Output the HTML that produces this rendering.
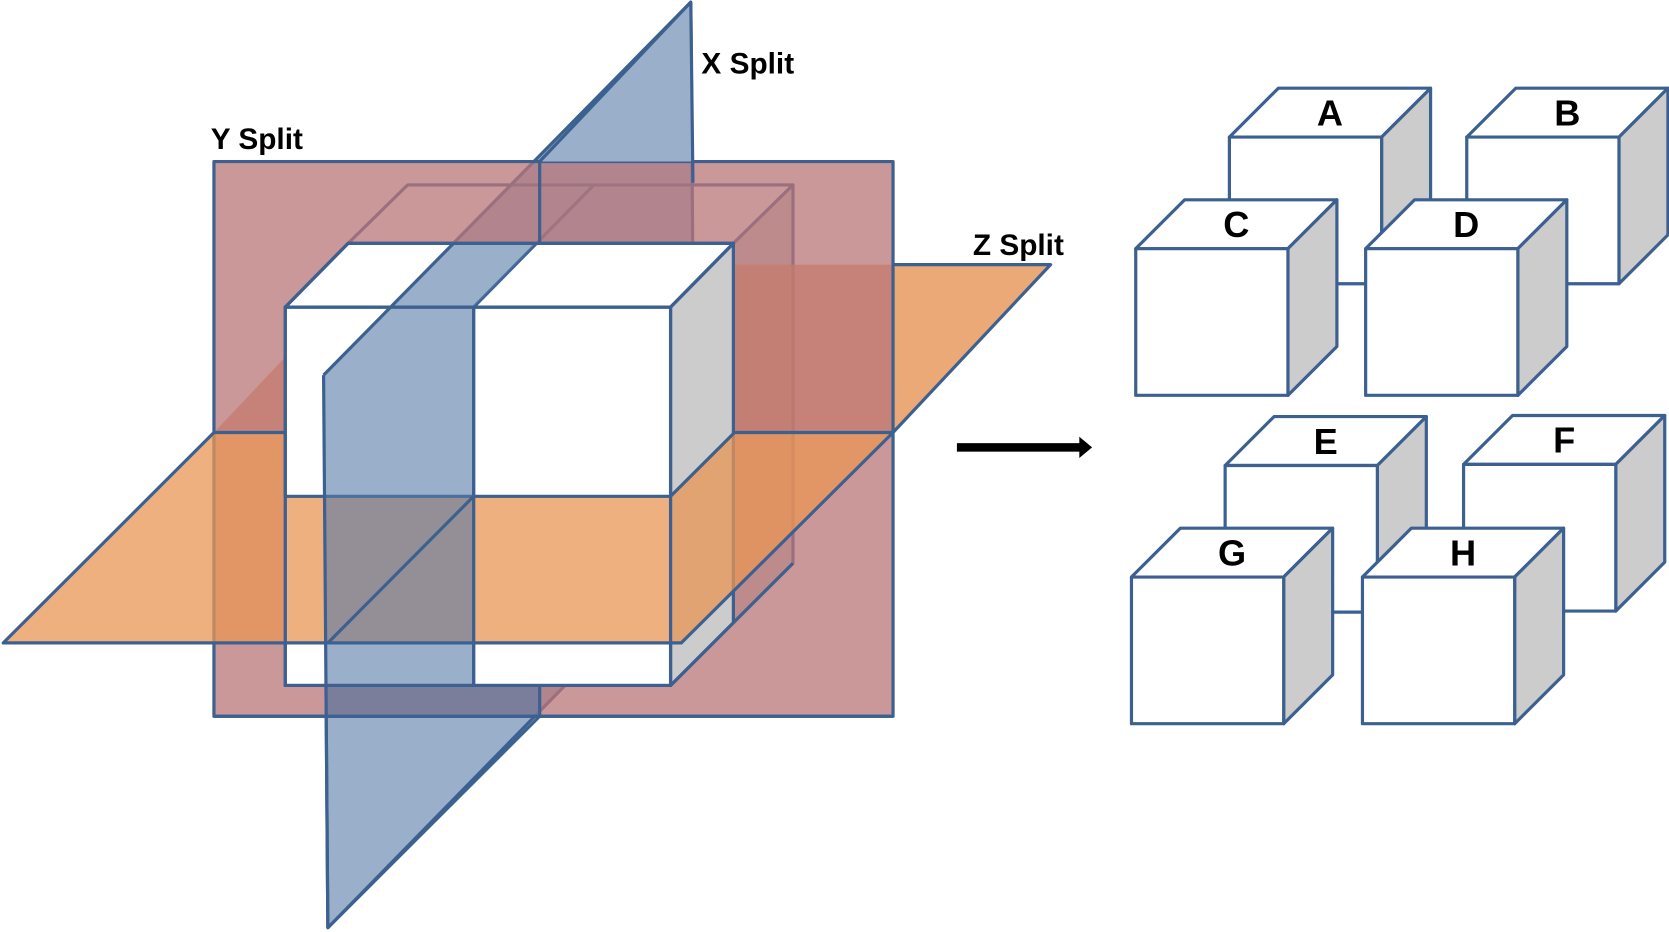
<!DOCTYPE html>
<html><head><meta charset="utf-8"><style>
html,body{margin:0;padding:0;background:#fff;}
svg{display:block;}
text{font-family:"Liberation Sans",sans-serif;font-weight:bold;fill:#000;}
</style></head><body>
<svg width="1669" height="932" viewBox="0 0 1568 877" preserveAspectRatio="none">
<g stroke="#3c6090" stroke-width="3" stroke-linejoin="round">
 <g>
  <polygon points="327,229 383,174 745,174 689,229" fill="#fff"/>
  <polygon points="689,229 745,174 745,530 689,586" fill="#ccc"/>
  <line x1="504" y1="229" x2="558" y2="174"/>
 </g>
 <polygon points="201,407 350,249 987,249 839,407" fill="rgb(228,140,74)" fill-opacity="0.75" stroke="none"/>
 <polygon points="304,353 649,2 653,520 308,873" fill="rgb(87,122,165)" fill-opacity="0.6"/>
 <rect x="201" y="152" width="638" height="522" fill="rgb(185,118,120)" fill-opacity="0.75"/>
 <polygon points="507,152 649,2 651,152" fill="#9aafc9" stroke="none"/>
 <line x1="649" y1="2" x2="651" y2="172" />
 <line x1="507" y1="152" x2="649" y2="2"/>
 <line x1="507" y1="152" x2="507" y2="229"/>
 <g>
  <rect x="268" y="467" width="362" height="178" fill="#fff"/>
  <polygon points="630,467 689,408 689,586 630,645" fill="#ccc"/>
  <line x1="445" y1="467" x2="445" y2="645"/>
 </g>
 <polygon points="3,605 201,407 839,407 640,605" fill="rgb(233,150,84)" fill-opacity="0.75"/>
 <polyline points="839,407 987,249 839,249" fill="none"/>
 <g>
  <polygon points="268,289 327,229 689,229 630,289" fill="#fff"/>
  <rect x="268" y="289" width="362" height="178" fill="#fff"/>
  <polygon points="630,289 689,229 689,408 630,467" fill="#ccc"/>
  <line x1="445" y1="289" x2="445" y2="467"/>
  <line x1="445" y1="289" x2="504" y2="229"/>
 </g>
 <polygon points="304,353 426,229 504,229 445,289 445,645 507,645 507,674 306,674" fill="rgb(87,122,165)" fill-opacity="0.6" stroke="none"/>
 <line x1="304" y1="353" x2="426" y2="229"/>
 <line x1="304" y1="353" x2="308" y2="873"/>
 <line x1="308" y1="873" x2="507" y2="674"/>
 <line x1="308" y1="605" x2="445" y2="467"/>
 <line x1="3" y1="605" x2="640" y2="605"/>
 <line x1="445" y1="289" x2="445" y2="645"/>
 <line x1="507" y1="645" x2="507" y2="674"/>
 <rect x="268" y="289" width="362" height="356" fill="none"/>
 <polyline points="268,289 327,229 689,229 630,289" fill="none"/>
 <line x1="630" y1="645" x2="745" y2="530"/>
 <line x1="201" y1="674" x2="839" y2="674"/>
</g>
<text x="659" y="69" font-size="28">X Split</text>
<text x="198" y="140" font-size="28">Y Split</text>
<text x="914" y="240" font-size="28">Z Split</text>
<g>
 <rect x="899" y="417" width="117" height="8" fill="#000"/>
 <polygon points="1014,411 1026,421 1014,431" fill="#000"/>
</g>
<g id="cubes" stroke="#3c6090" stroke-width="3" stroke-linejoin="round"></g>
</svg>
<script>
const cubeNames=['A','B','E','F','C','D','G','H'];
const cubePos=[[1155,129],[1378,129],[1151,438],[1375,437],[1067,234],[1283,234],[1063,543],[1280,543]];
const g=document.getElementById('cubes');
const NS='http://www.w3.org/2000/svg';
const W=143,H=138,D=46;
cubeNames.forEach((n,i)=>{
 const [x,y]=cubePos[i];
 const c=document.createElementNS(NS,'g');
 
 
 const poly=(pts,fill)=>{const p=document.createElementNS(NS,'polygon');p.setAttribute('points',pts);p.setAttribute('fill',fill);c.appendChild(p);};
 poly(`${x},${y} ${x+D},${y-D} ${x+W+D},${y-D} ${x+W},${y}`,'#fff');
 poly(`${x+W},${y} ${x+W+D},${y-D} ${x+W+D},${y+H-D} ${x+W},${y+H}`,'#ccc');
 poly(`${x},${y} ${x+W},${y} ${x+W},${y+H} ${x},${y+H}`,'#fff');
 const t=document.createElementNS(NS,'text');
 t.setAttribute('x',x+W/2+D/2);t.setAttribute('y',y-11);
 t.setAttribute('text-anchor','middle');t.setAttribute('font-size','34');t.setAttribute('stroke','none');
 t.textContent=n;
 
 
 c.appendChild(t);
 g.appendChild(c);
});
</script>
</body></html>
